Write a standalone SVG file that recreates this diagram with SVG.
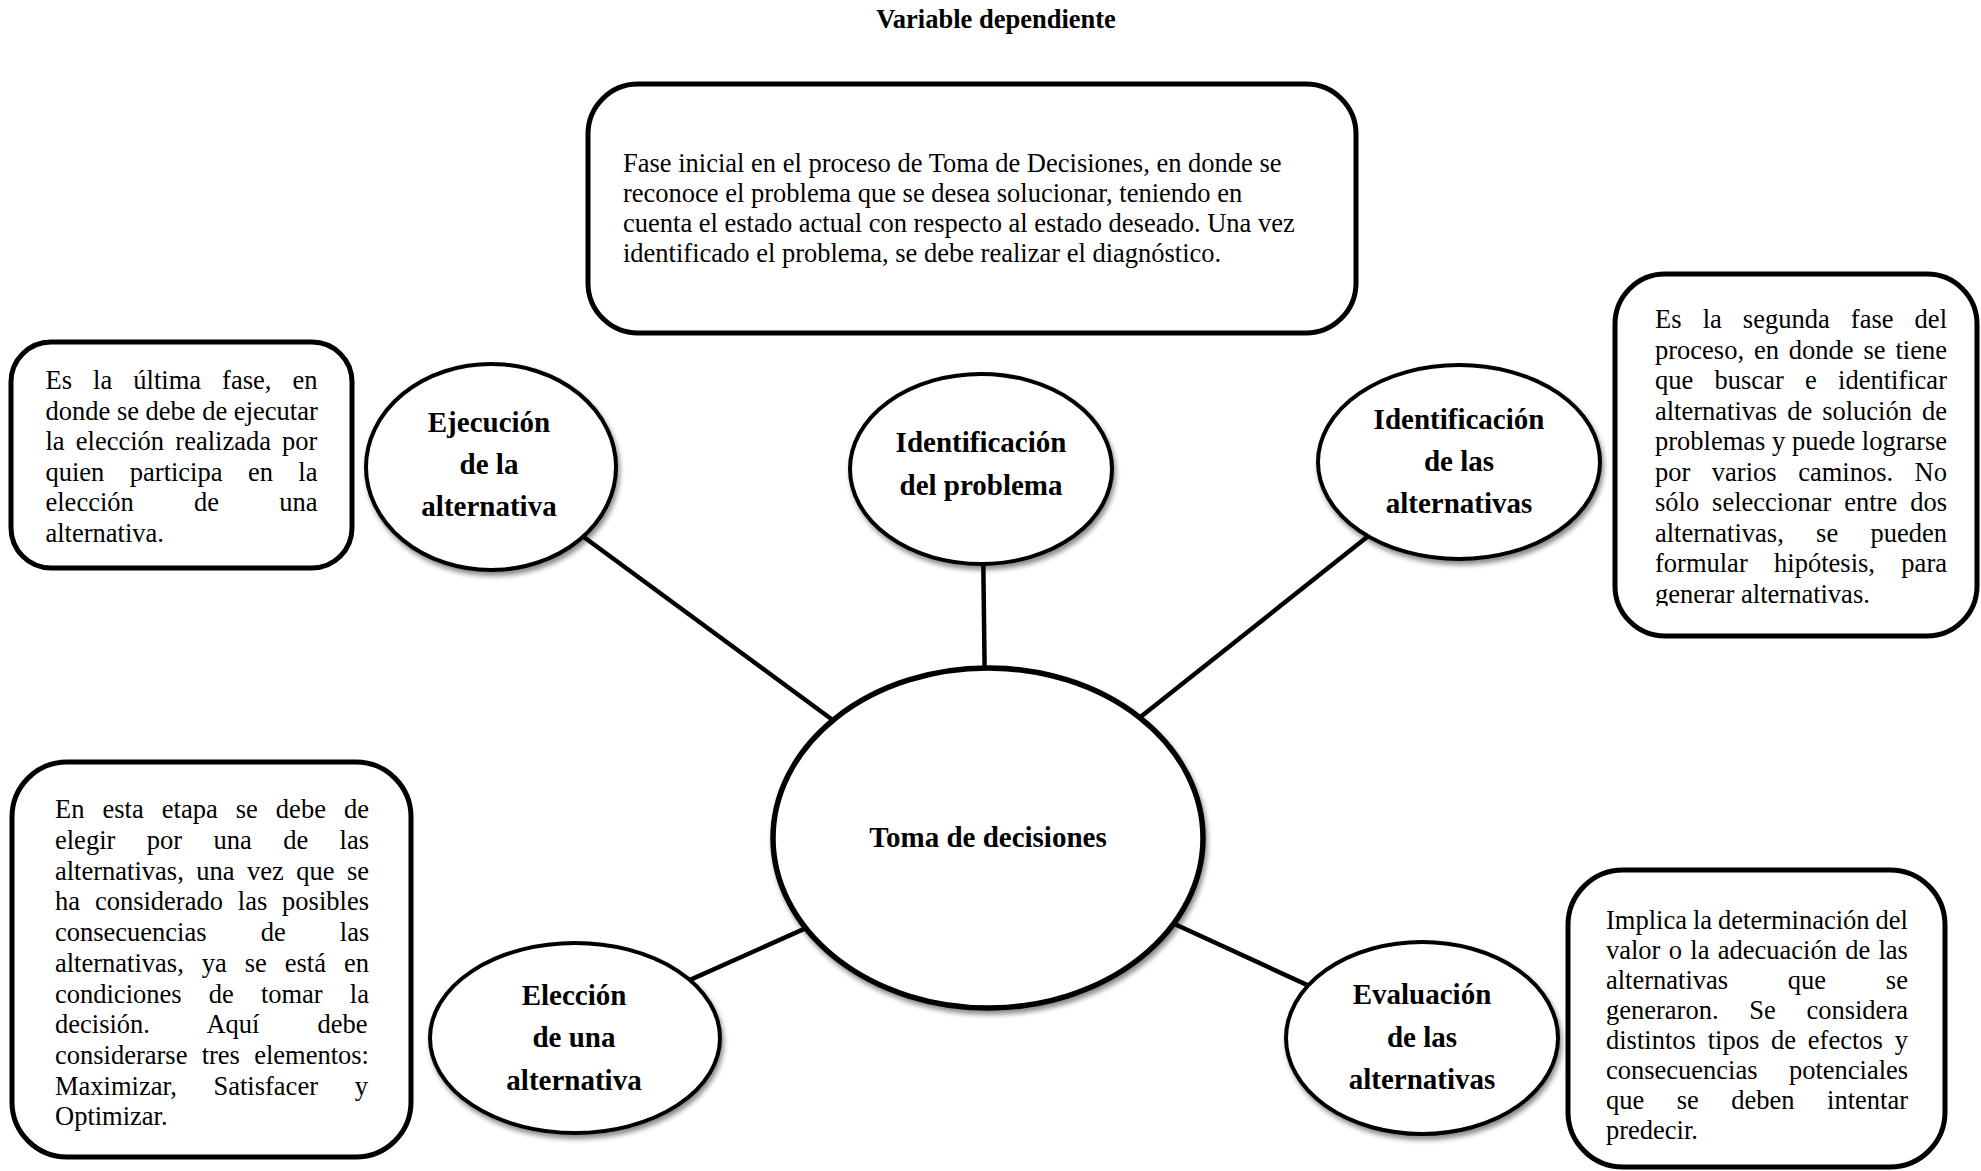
<svg xmlns="http://www.w3.org/2000/svg" width="1981" height="1171" viewBox="0 0 1981 1171">
  <defs>
    <filter id="shadow" x="-10%" y="-10%" width="125%" height="130%">
      <feDropShadow dx="2" dy="4" stdDeviation="2.5" flood-color="#000" flood-opacity="0.45"/>
    </filter>
    <clipPath id="clipRight">
      <rect x="1620" y="280" width="350" height="326"/>
    </clipPath>
  </defs>
  <style>
    text { font-family: "Liberation Serif", "Times New Roman", serif; fill: #000; }
    .title { font-size: 26.5px; font-weight: bold; text-anchor: middle; }
    .body { font-size: 26.5px; }
    .label { font-size: 29px; font-weight: bold; text-anchor: middle; }
    .box { fill: #fff; stroke: #000; stroke-width: 5; }
    .bubble { fill: #fff; stroke: #000; stroke-width: 4; filter: url(#shadow); }
    .hub { fill: #fff; stroke: #000; stroke-width: 5.5; filter: url(#shadow); }
    .link { stroke: #000; stroke-width: 4.5; fill: none; }
  </style>

  <rect width="1981" height="1171" fill="#fff"/>

  <text class="title" x="996" y="28">Variable dependiente</text>

  <!-- spokes from the hub to each phase -->
  <g id="connectors">
    <line class="link" x1="983" y1="540" x2="985" y2="700"/>
    <line class="link" x1="560" y1="519.5" x2="870" y2="747.5"/>
    <line class="link" x1="1385" y1="522.7" x2="1120" y2="733.3"/>
    <line class="link" x1="680" y1="984.4" x2="830" y2="917.4"/>
    <line class="link" x1="1150" y1="912.7" x2="1320" y2="990.9"/>
  </g>

  <!-- description boxes -->
  <g id="desc-problema">
    <rect class="box" x="588" y="84" width="768" height="249" rx="50" ry="50"/>
    <text class="body" x="623" y="172">Fase inicial en el proceso de Toma de Decisiones, en donde se</text>
    <text class="body" x="623" y="202">reconoce el problema que se desea solucionar, teniendo en</text>
    <text class="body" x="623" y="232">cuenta el estado actual con respecto al estado deseado. Una vez</text>
    <text class="body" x="623" y="262">identificado el problema, se debe realizar el diagnóstico.</text>
  </g>

  <g id="desc-ejecucion">
    <rect class="box" x="11" y="342" width="341" height="226" rx="40" ry="40"/>
    <text class="body" x="45.5" y="389" word-spacing="14.46">Es la última fase, en</text>
    <text class="body" x="45.5" y="419.5">donde se debe de ejecutar</text>
    <text class="body" x="45.5" y="450" word-spacing="4.58">la elección realizada por</text>
    <text class="body" x="45.5" y="480.5" word-spacing="18.79">quien participa en la</text>
    <text class="body" x="45.5" y="511" word-spacing="53.58">elección de una</text>
    <text class="body" x="45.5" y="541.5">alternativa.</text>
  </g>

  <g id="desc-identificacion-alternativas">
    <rect class="box" x="1615" y="274" width="362" height="362" rx="50" ry="50"/>
    <g clip-path="url(#clipRight)">
      <text class="body" x="1655" y="328" word-spacing="14.5">Es la segunda fase del</text>
      <text class="body" x="1655" y="358.5" word-spacing="3.27">proceso, en donde se tiene</text>
      <text class="body" x="1655" y="389" word-spacing="14.67">que buscar e identificar</text>
      <text class="body" x="1655" y="419.5" word-spacing="3.37">alternativas de solución de</text>
      <text class="body" x="1655" y="450">problemas y puede lograrse</text>
      <text class="body" x="1655" y="480.5" word-spacing="14.9">por varios caminos. No</text>
      <text class="body" x="1655" y="511" word-spacing="6.32">sólo seleccionar entre dos</text>
      <text class="body" x="1655" y="541.5" word-spacing="25.68">alternativas, se pueden</text>
      <text class="body" x="1655" y="572" word-spacing="19.78">formular hipótesis, para</text>
      <text class="body" x="1655" y="602.5">generar alternativas.</text>
    </g>
  </g>

  <g id="desc-eleccion">
    <rect class="box" x="12" y="762" width="399" height="395" rx="55" ry="55"/>
    <text class="body" x="55" y="818.3" word-spacing="11.44">En esta etapa se debe de</text>
    <text class="body" x="55" y="849" word-spacing="24.78">elegir por una de las</text>
    <text class="body" x="55" y="879.7" word-spacing="5.83">alternativas, una vez que se</text>
    <text class="body" x="55" y="910.4" word-spacing="8.25">ha considerado las posibles</text>
    <text class="body" x="55" y="941.1" word-spacing="47.49">consecuencias de las</text>
    <text class="body" x="55" y="971.8" word-spacing="11.35">alternativas, ya se está en</text>
    <text class="body" x="55" y="1002.5" word-spacing="20.52">condiciones de tomar la</text>
    <text class="body" x="55" y="1033.2" word-spacing="51.38">decisión. Aquí debe</text>
    <text class="body" x="55" y="1063.9" word-spacing="7.6">considerarse tres elementos:</text>
    <text class="body" x="55" y="1094.6" word-spacing="30.05">Maximizar, Satisfacer y</text>
    <text class="body" x="55" y="1125.3">Optimizar.</text>
  </g>

  <g id="desc-evaluacion">
    <rect class="box" x="1568" y="870" width="377" height="297" rx="55" ry="55"/>
    <text class="body" x="1606" y="929" word-spacing="-0.65">Implica la determinación del</text>
    <text class="body" x="1606" y="959" word-spacing="1.67">valor o la adecuación de las</text>
    <text class="body" x="1606" y="989" word-spacing="53.1">alternativas que se</text>
    <text class="body" x="1606" y="1019" word-spacing="24.06">generaron. Se considera</text>
    <text class="body" x="1606" y="1049" word-spacing="5.2">distintos tipos de efectos y</text>
    <text class="body" x="1606" y="1079" word-spacing="24.8">consecuencias potenciales</text>
    <text class="body" x="1606" y="1109" word-spacing="25.85">que se deben intentar</text>
    <text class="body" x="1606" y="1139">predecir.</text>
  </g>

  <!-- phase bubbles -->
  <g id="node-ejecucion">
    <ellipse class="bubble" cx="491" cy="467" rx="125" ry="103"/>
    <text class="label" x="489" y="432">Ejecución</text>
    <text class="label" x="489" y="474">de la</text>
    <text class="label" x="489" y="516">alternativa</text>
  </g>

  <g id="node-problema">
    <ellipse class="bubble" cx="981" cy="469" rx="131" ry="95"/>
    <text class="label" x="981" y="452">Identificación</text>
    <text class="label" x="981" y="495">del problema</text>
  </g>

  <g id="node-alternativas">
    <ellipse class="bubble" cx="1459" cy="462" rx="141" ry="97"/>
    <text class="label" x="1459" y="429">Identificación</text>
    <text class="label" x="1459" y="471">de las</text>
    <text class="label" x="1459" y="513">alternativas</text>
  </g>

  <g id="node-eleccion">
    <ellipse class="bubble" cx="575" cy="1038" rx="145" ry="95"/>
    <text class="label" x="574" y="1005">Elección</text>
    <text class="label" x="574" y="1047">de una</text>
    <text class="label" x="574" y="1090">alternativa</text>
  </g>

  <g id="node-evaluacion">
    <ellipse class="bubble" cx="1422" cy="1038" rx="136" ry="96"/>
    <text class="label" x="1422" y="1004">Evaluación</text>
    <text class="label" x="1422" y="1047">de las</text>
    <text class="label" x="1422" y="1089">alternativas</text>
  </g>

  <g id="node-toma">
    <ellipse class="hub" cx="988" cy="838" rx="215" ry="170"/>
    <text class="label" x="988" y="847">Toma de decisiones</text>
  </g>
</svg>
